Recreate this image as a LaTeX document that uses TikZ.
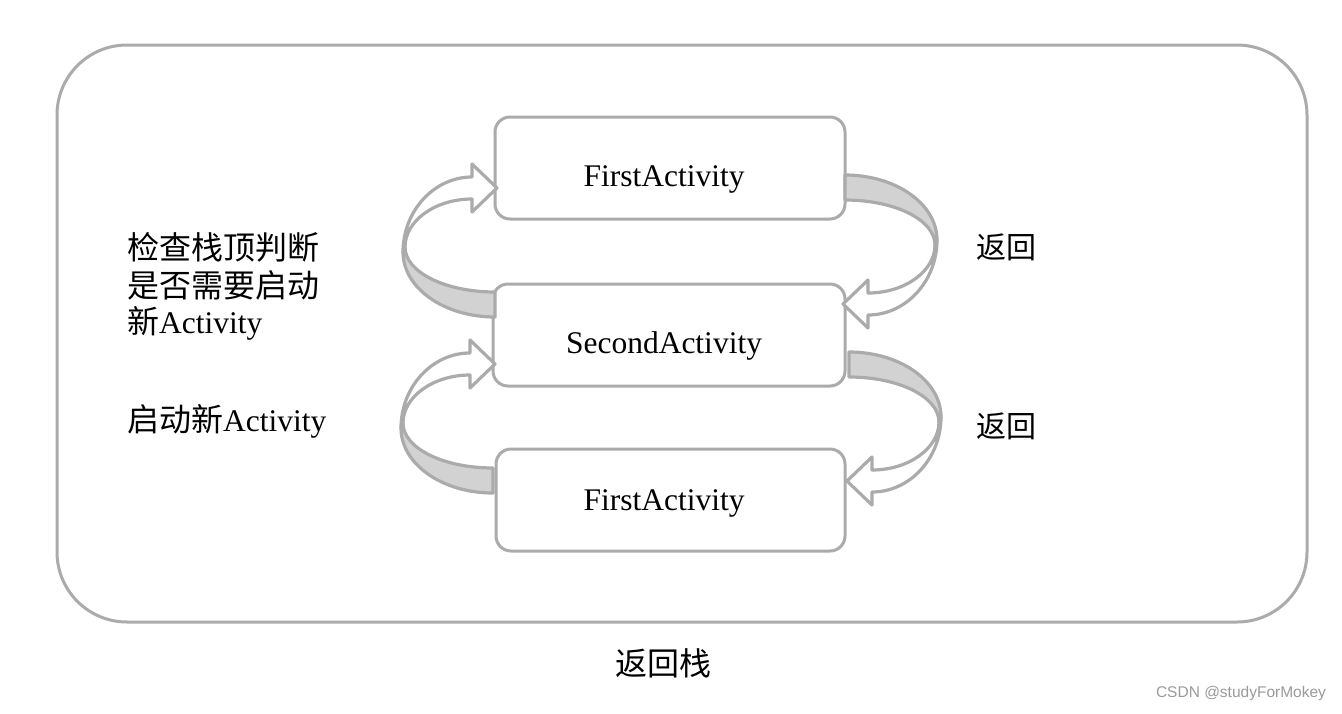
\documentclass[tikz,border=0pt]{standalone}
\usepackage{fontspec}
\setmainfont{Liberation Serif}
\newfontfamily\cjk{Noto Sans CJK SC}
\newfontfamily\wmfont{Liberation Sans}
\definecolor{linegray}{HTML}{ABABAB}
\definecolor{bandgray}{HTML}{D2D2D2}
\definecolor{wmgray}{HTML}{9A9A9A}
\newcommand{\ribbonarrow}{%
  \draw[arrline, fill=bandgray] (0,0) .. controls (51,0) and (92,29) .. (92,65)
     -- (90,70) .. controls (90,45) and (50,25) .. (0,25) -- cycle;
  \draw[arrline, fill=white] (92,65) .. controls (92,106) and (61,140) .. (23,140)
     -- (23,153) -- (-2,129) -- (23,105) -- (23,118)
     .. controls (60,118) and (90,96) .. (90,70) -- cycle;
}
\begin{document}
\begin{tikzpicture}[x=1pt,y=-1pt,
  arrline/.style={draw=linegray, line width=3.2pt, line join=round},
  actbox/.style={draw=linegray, line width=3pt, rounded corners=15pt, fill=white},
  lat/.style={font=\fontsize{31.5}{36}\selectfont},
  cj/.style={font=\cjk\fontsize{32}{36}\selectfont, anchor=west, inner sep=0pt}]
\useasboundingbox (0,0) rectangle (1342,713);
\fill[white] (0,0) rectangle (1342,713);
% outer stack frame
\draw[linegray, line width=3pt, rounded corners=70pt] (57,45) rectangle (1307,622);
% activity boxes
\draw[actbox] (495,117) rectangle (845,219);
\draw[actbox] (493,284) rectangle (845,386);
\draw[actbox] (496,449) rectangle (845,551);
\node[lat] (first1) at (664,179) {FirstActivity};
\node[lat] (second) at (664,346) {SecondActivity};
\node[lat] (first2) at (664,503) {FirstActivity};
% ribbon arrows
\begin{scope}[shift={(845,175)}]\ribbonarrow\end{scope}
\begin{scope}[shift={(849,352)}]\ribbonarrow\end{scope}
\begin{scope}[shift={(495,317)},rotate=180]\ribbonarrow\end{scope}
\begin{scope}[shift={(493,493)},rotate=180]\ribbonarrow\end{scope}
% labels
\node[cj] (l1) at (127,247) {检查栈顶判断};
\node[cj] (l2) at (127,285) {是否需要启动};
\node[cj] (l3) at (127,323) {新{\rmfamily\fontsize{31.5}{36}\selectfont Activity}};
\node[cj] (l4) at (127,421) {启动新{\rmfamily\fontsize{31.5}{36}\selectfont Activity}};
\node[cj, font=\cjk\fontsize{30}{36}\selectfont] (r1) at (976,247) {返回};
\node[cj, font=\cjk\fontsize{30}{36}\selectfont] (r2) at (976,426) {返回};
\node[font=\cjk\fontsize{32}{36}\selectfont, inner sep=0pt] (stack) at (663,663) {返回栈};
\node[font=\wmfont\fontsize{15.5}{18}\selectfont, text=wmgray, inner sep=0pt] (wm) at (1241,693) {CSDN @studyForMokey};
\end{tikzpicture}
\end{document}
